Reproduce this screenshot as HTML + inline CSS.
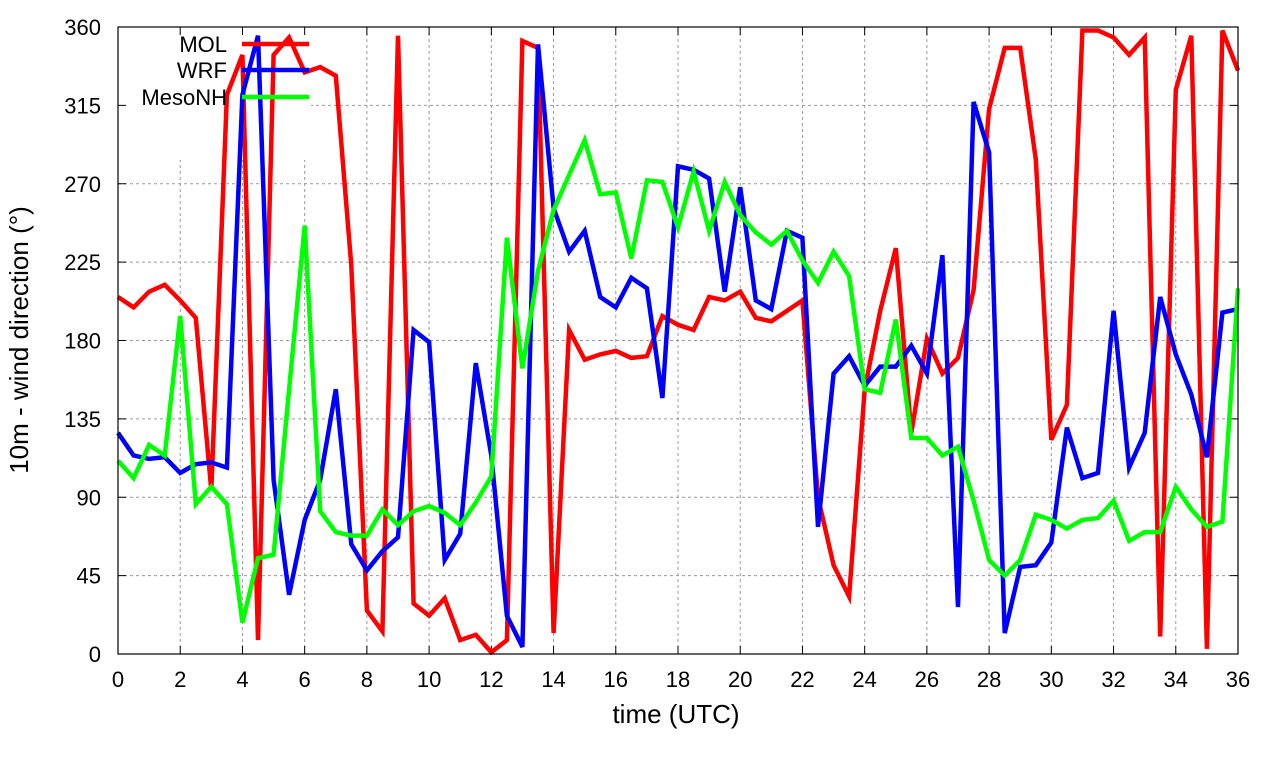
<!DOCTYPE html>
<html><head><meta charset="utf-8"><style>
html,body{margin:0;padding:0;background:#fff;}
svg{display:block;font-family:"Liberation Sans",sans-serif;}
</style></head><body>
<svg id="chart" width="1280" height="760"></svg>
<script>
const times=[];for(let i=0;i<=72;i++)times.push(i*0.5);
const xTicks=[0,2,4,6,8,10,12,14,16,18,20,22,24,26,28,30,32,34,36];
const yTicks=[0,45,90,135,180,225,270,315,360];
const molValues=[205,199,208,212,203,193,94,321,344,8,344,354,334,337,332,223,25,13,355,29,22,32,8,11,1,8,352,348,12,186,169,172,174,170,171,194,189,186,205,203,208,193,191,197,203,90,51,33,152,197,233,127,181,161,170,209,313,348,348,284,123,143,358,358,354,344,354,10,324,355,3,358,335];
const wrfValues=[127,114,112,113,104,109,110,107,321,355,100,34,77,100,152,63,48,59,67,186,179,54,69,167,114,22,4,350,256,231,243,205,199,216,210,147,280,278,273,208,268,203,198,243,239,73,161,171,154,165,165,177,161,229,27,317,288,12,50,51,64,130,101,104,197,107,127,205,172,149,113,196,198];
const mesoValues=[111,101,120,114,194,86,96,86,18,55,57,152,246,82,70,68,68,83,74,82,85,81,74,87,102,239,164,220,255,275,295,264,265,227,272,271,245,277,243,271,252,242,235,243,226,213,231,217,152,150,192,124,124,114,119,88,54,45,54,80,77,72,77,78,88,65,70,70,96,83,73,76,210];
const L=118,R=1238,T=27,B=654;
const sx=t=>L+(t-0)/(36-0)*(R-L);
const sy=v=>B-(v-0)/(360-0)*(B-T);
const svg=document.getElementById('chart');
const NS='http://www.w3.org/2000/svg';
function mk(tag,attrs,parent){const e=document.createElementNS(NS,tag);for(const k in attrs)e.setAttribute(k,attrs[k]);(parent||svg).appendChild(e);return e;}
const grid=mk('g',{});


xTicks.forEach(t=>{if(t>0&&t<36)mk('line',{x1:sx(t),x2:sx(t),y1:T,y2:B,stroke:'#999','stroke-width':1,'stroke-dasharray':'3,3'},grid);});
yTicks.forEach(v=>{if(v>0&&v<360)mk('line',{x1:L,x2:R,y1:sy(v),y2:sy(v),stroke:'#999','stroke-width':1,'stroke-dasharray':'3,3'},grid);});
mk('rect',{x:L+1,y:T+1,width:192,height:132,fill:'#fff'},grid);
const axes=mk('g',{});


xTicks.forEach(t=>{
  mk('line',{x1:sx(t),x2:sx(t),y1:B,y2:B-8,stroke:'#000','stroke-width':1},axes);
  mk('line',{x1:sx(t),x2:sx(t),y1:T,y2:T+8,stroke:'#000','stroke-width':1},axes);
  const tx=mk('text',{x:sx(t),y:687,'font-size':22,'text-anchor':'middle',fill:'#000'},axes);
  tx.textContent=t;
  
  
});
yTicks.forEach(v=>{
  mk('line',{x1:L,x2:L+8,y1:sy(v),y2:sy(v),stroke:'#000','stroke-width':1},axes);
  mk('line',{x1:R,x2:R-8,y1:sy(v),y2:sy(v),stroke:'#000','stroke-width':1},axes);
  const tx=mk('text',{x:101,y:sy(v)+8,'font-size':22,'text-anchor':'end',fill:'#000'},axes);
  tx.textContent=v;
  
  
});
function series(vals,color,name){
  const d=vals.map((v,i)=>(i?'L':'M')+sx(times[i]).toFixed(1)+','+sy(v).toFixed(1)).join(' ');
  const p=mk('path',{d:d,fill:'none',stroke:color,'stroke-width':4.5,'stroke-linejoin':'miter'});
  
  
}
series(molValues,'#ff0000','mol-series');
series(wrfValues,'#0000ff','wrf-series');
series(mesoValues,'#00ff00','mesonh-series');
const leg=[['MOL','#ff0000',44],['WRF','#0000ff',70],['MesoNH','#00ff00',97]];
leg.forEach(([n,c,y])=>{
  const g=mk('g',{});
  
  
  const tx=mk('text',{x:227,y:y+8,'font-size':22,'text-anchor':'end',fill:'#000'},g);
  tx.textContent=n;
  mk('line',{x1:242,x2:309,y1:y,y2:y,stroke:c,'stroke-width':4.5},g);
});
const fr=mk('rect',{x:L,y:T,width:R-L,height:B-T,fill:'none',stroke:'#000','stroke-width':1.2});


const xt=mk('text',{x:676,y:723,'font-size':26,'text-anchor':'middle',fill:'#000'});
xt.textContent='time (UTC)';


const yt=mk('text',{x:0,y:0,'font-size':26,'text-anchor':'middle',fill:'#000',transform:'translate(28,340) rotate(-90)'});
yt.textContent='10m - wind direction (°)';


</script>
</body></html>
